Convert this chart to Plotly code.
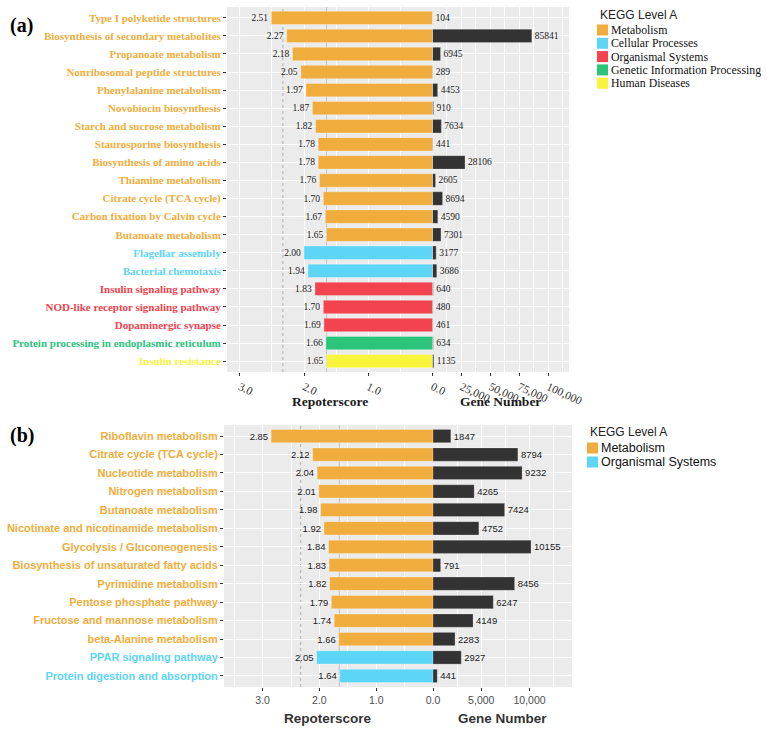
import plotly.graph_objects as go

# ---------------- data ----------------
cats_a = ["Type I polyketide structures", "Biosynthesis of secondary metabolites",
          "Propanoate metabolism", "Nonribosomal peptide structures",
          "Phenylalanine metabolism", "Novobiocin biosynthesis",
          "Starch and sucrose metabolism", "Staurosporine biosynthesis",
          "Biosynthesis of amino acids", "Thiamine metabolism",
          "Citrate cycle (TCA cycle)", "Carbon fixation by Calvin cycle",
          "Butanoate metabolism", "Flagellar assembly", "Bacterial chemotaxis",
          "Insulin signaling pathway", "NOD-like receptor signaling pathway",
          "Dopaminergic synapse", "Protein processing in endoplasmic reticulum",
          "Insulin resistance"]
score_a = [2.51, 2.27, 2.18, 2.05, 1.97, 1.87, 1.82, 1.78, 1.78, 1.76,
           1.70, 1.67, 1.65, 2.00, 1.94, 1.83, 1.70, 1.69, 1.66, 1.65]
genes_a = [104, 85841, 6945, 289, 4453, 910, 7634, 441, 28106, 2605,
           8694, 4590, 7301, 3177, 3686, 640, 480, 461, 634, 1135]
level_a = (["Metabolism"] * 13 + ["Cellular Processes"] * 2 +
           ["Organismal Systems"] * 3 + ["Genetic Information Processing"] +
           ["Human Diseases"])

cats_b = ["Riboflavin metabolism", "Citrate cycle (TCA cycle)", "Nucleotide metabolism",
          "Nitrogen metabolism", "Butanoate metabolism",
          "Nicotinate and nicotinamide metabolism", "Glycolysis / Gluconeogenesis",
          "Biosynthesis of unsaturated fatty acids", "Pyrimidine metabolism",
          "Pentose phosphate pathway", "Fructose and mannose metabolism",
          "beta-Alanine metabolism", "PPAR signaling pathway",
          "Protein digestion and absorption"]
score_b = [2.85, 2.12, 2.04, 2.01, 1.98, 1.92, 1.84, 1.83, 1.82, 1.79, 1.74, 1.66, 2.05, 1.64]
genes_b = [1847, 8794, 9232, 4265, 7424, 4752, 10155, 791, 8456, 6247, 4149, 2283, 2927, 441]
level_b = ["Metabolism"] * 12 + ["Organismal Systems"] * 2

levels_a = ["Metabolism", "Cellular Processes", "Organismal Systems",
            "Genetic Information Processing", "Human Diseases"]
levels_b = ["Metabolism", "Organismal Systems"]
colors_a = ["#F0AD3D", "#5DD5F7", "#F2434F", "#2BC47B", "#F7F43B"]
colors_b = ["#F0AD3D", "#5DD5F7"]
thresholds = [2.33, 1.65]
score_ticks = [0, 1, 2, 3]
gene_ticks_a = [0, 25000, 50000, 75000, 100000]
gene_ticks_b = [0, 5000, 10000]

# ---------------- style ----------------
W, H = 767, 730
SERIF = "Liberation Serif"
SANS = "Liberation Sans"
BG = "#EBEBEB"
DARK = "#333333"


def px(p):
    return p / W


def py(p):
    return 1 - p / H


cmap_a = dict(zip(levels_a, colors_a))
cmap_b = dict(zip(levels_b, colors_b))

fig = go.Figure()


def add_panel(cats, scores, genes, levels, cmap, xl, xr, ya, font, width):
    for lv in cmap:
        idx = [i for i, l in enumerate(levels) if l == lv]
        if not idx:
            continue
        fig.add_trace(go.Bar(
            x=[scores[i] for i in idx], y=[cats[i] for i in idx], orientation="h",
            xaxis=xl, yaxis=ya, width=width, name=lv,
            marker=dict(color=cmap[lv], line=dict(width=0.6, color="rgba(255,255,255,0.5)")),
            text=[f"{scores[i]:.2f}" for i in idx], textposition="outside",
            textfont=dict(family=font, size=9.5, color="#1A1A1A"),
            cliponaxis=False, constraintext="none", showlegend=False,
            hovertemplate="%{y}: %{x:.2f}<extra></extra>"))
    fig.add_trace(go.Bar(
        x=genes, y=cats, orientation="h", xaxis=xr, yaxis=ya, width=width,
        marker=dict(color=DARK, line=dict(width=0.6, color="rgba(255,255,255,0.4)")),
        text=[str(g) for g in genes], textposition="outside",
        textfont=dict(family=font, size=9.5, color="#1A1A1A"),
        cliponaxis=False, constraintext="none", showlegend=False,
        hovertemplate="%{y}: %{x}<extra></extra>"))


add_panel(cats_a, score_a, genes_a, level_a, cmap_a, "x", "x2", "y", SERIF, 0.74)
add_panel(cats_b, score_b, genes_b, level_b, cmap_b, "x3", "x4", "y2", SANS, 0.72)

grid = dict(showgrid=True, gridcolor="white", gridwidth=1.2, zeroline=False,
            showline=False, ticks="outside", ticklen=3, tickcolor=DARK,
            fixedrange=True, automargin=False)


def score_axis(dom, rng, anchor, font, size, angle, tcol):
    return dict(domain=dom, range=rng, anchor=anchor, tickmode="array",
                tickvals=score_ticks, ticktext=[f"{v:.1f}" for v in score_ticks],
                tickangle=angle, tickfont=dict(family=font, size=size, color=tcol),
                minor=dict(tick0=0, dtick=0.5, showgrid=True, gridcolor="white",
                           gridwidth=0.6, ticks=""), **grid)


def gene_axis(dom, rng, anchor, ticks, minor, font, size, angle, tcol):
    return dict(domain=dom, range=rng, anchor=anchor, tickmode="array",
                tickvals=ticks, ticktext=["" if v == 0 else f"{v:,}" for v in ticks],
                tickangle=angle, tickfont=dict(family=font, size=size, color=tcol),
                minor=dict(tick0=0, dtick=minor, showgrid=True, gridcolor="white",
                           gridwidth=0.6, ticks=""), **grid)


def cat_axis(dom, cats, levels, cmap, anchor, font, size):
    return dict(domain=dom, anchor=anchor, type="category", categoryorder="array",
                categoryarray=cats, range=[len(cats) - 0.4, -0.6],
                tickmode="array", tickvals=cats,
                ticktext=[f'<span style="color:{cmap[l]}"><b>{c}</b></span>'
                          for c, l in zip(cats, levels)],
                tickfont=dict(family=font, size=size), **grid)


fig.update_layout(
    width=W, height=H, margin=dict(l=0, r=0, t=0, b=0, autoexpand=False),
    paper_bgcolor="white", plot_bgcolor=BG, barmode="overlay", showlegend=False,
    xaxis=score_axis([px(227), px(432.5)], [3.2, 0], "y", SERIF, 11.5, 25, "#333333"),
    xaxis2=gene_axis([px(432.5), px(569)], [0, 118000], "y", gene_ticks_a, 12500,
                     SERIF, 11.5, 25, "#333333"),
    yaxis=cat_axis([py(372), py(7)], cats_a, level_a, cmap_a, "x", SERIF, 11),
    xaxis3=score_axis([px(224), px(433)], [3.68, 0], "y2", SANS, 10.5, 0, "#4D4D4D"),
    xaxis4=gene_axis([px(433), px(572)], [0, 14400], "y2", gene_ticks_b, 2500,
                     SANS, 10.5, 0, "#4D4D4D"),
    yaxis2=cat_axis([py(687), py(425)], cats_b, level_b, cmap_b, "x3", SANS, 11),
)

shapes = []
for xr, yr in (("x", "y domain"), ("x3", "y2 domain")):
    for t, col, dash in zip(thresholds, ["#B0B0B0", "#C4C4C4"], ["3px,3px", "solid"]):
        shapes.append(dict(type="line", xref=xr, yref=yr, x0=t, x1=t, y0=0, y1=1,
                           line=dict(color=col, width=1, dash=dash), layer="below"))

annotations = []
# panel tags
annotations.append(dict(text="<b>(a)</b>", x=px(8), y=py(25), xref="paper", yref="paper",
                        xanchor="left", yanchor="middle", showarrow=False,
                        font=dict(family=SERIF, size=20, color="black")))
annotations.append(dict(text="<b>(b)</b>", x=px(8), y=py(435), xref="paper", yref="paper",
                        xanchor="left", yanchor="middle", showarrow=False,
                        font=dict(family=SERIF, size=20, color="black")))
# axis titles
for xr, ypix, font, col in (("x", 402, SERIF, "#1A1A1A"), ("x2", 402, SERIF, "#1A1A1A"),
                            ("x3", 718, SANS, DARK), ("x4", 718, SANS, DARK)):
    label = "Repoterscore" if xr in ("x", "x3") else "Gene Number"
    annotations.append(dict(text=f"<b>{label}</b>", x=0.5, xref=f"{xr} domain",
                            y=py(ypix), yref="paper", xanchor="center", yanchor="middle",
                            showarrow=False, font=dict(family=font, size=13.5, color=col)))


# legends
def legend(levels, colors, x_title, y_title, x_sq, y0, step, ifont, isize):
    annotations.append(dict(text="KEGG Level A", x=px(x_title), y=py(y_title),
                            xref="paper", yref="paper", xanchor="left", yanchor="middle",
                            showarrow=False, font=dict(family=SANS, size=12, color="#222222")))
    for i, (lv, c) in enumerate(zip(levels, colors)):
        yc = y0 + i * step
        shapes.append(dict(type="rect", xref="paper", yref="paper",
                           x0=px(x_sq), x1=px(x_sq + 11), y0=py(yc + 5.5), y1=py(yc - 5.5),
                           fillcolor=c, line=dict(width=0)))
        annotations.append(dict(text=lv, x=px(x_sq + 12), y=py(yc), xref="paper", yref="paper",
                                xanchor="left", yanchor="middle", showarrow=False,
                                font=dict(family=ifont, size=isize, color="#111111")))


legend(levels_a, colors_a, 598, 15, 597, 30, 13.3, SERIF, 11.8)
legend(levels_b, colors_b, 588, 432, 587, 448, 14, SANS, 12.5)

fig.update_layout(shapes=shapes, annotations=annotations)
fig.write_html("out.html")
